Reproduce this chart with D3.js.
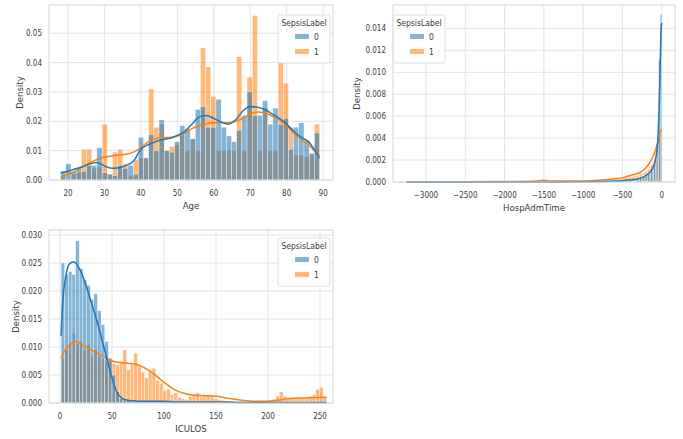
<!DOCTYPE html>
<html>
<head>
<meta charset="utf-8">
<script src="https://cdn.jsdelivr.net/npm/d3@7"></script>
<style>
  body { margin: 0; background: #fff; }
  text { font-family: "DejaVu Sans Condensed", "Liberation Sans Narrow", "DejaVu Sans", sans-serif; fill: #3a3a3a; }
</style>
</head>
<body>
<svg id="chart" width="683" height="439"></svg>
<script>
// ---- Age panel ----
const ageBinStart = 18, ageBinWidth = 1.42;
const ageDensity0 = [0.003,0.0055,0.003,0.004,0.003,0.005,0.005,0.011,0.0025,0.002,
  0.0015,0.005,0.004,0.005,0.002,0.0145,0.0075,0.0155,0.010,0.0205,
  0.010,0.0095,0.013,0.0185,0.0175,0.014,0.024,0.025,0.018,0.018,
  0.0275,0.018,0.015,0.013,0.017,0.022,0.030,0.022,0.022,0.027,
  0.019,0.0245,0.019,0.021,0.0105,0.018,0.0195,0.0135,0.009,0.016];
const ageDensity1 = [0.0015,0.0,0.002,0.0025,0.0105,0.0105,0.004,0.0045,0.019,0.002,
  0.0095,0.0105,0.0055,0.0015,0.007,0.0075,0.0075,0.031,0.018,0.019,
  0.010,0.0115,0.012,0.016,0.010,0.014,0.010,0.045,0.0385,0.0285,
  0.010,0.010,0.010,0.010,0.042,0.010,0.035,0.056,0.010,0.0245,
  0.010,0.010,0.040,0.033,0.018,0.0085,0.0085,0.008,0.009,0.019];
const ageKdeX = [18,20,22,24,26,28,30,32,34,36,38,40,42,44,46,48,50,52,54,56,58,60,62,64,66,68,70,72,74,76,78,80,82,84,86,88,89];
const ageKde0 = [0.0025,0.003,0.0038,0.0045,0.0055,0.006,0.0048,0.004,0.0042,0.005,0.0065,0.0105,0.012,0.013,0.0138,0.0142,0.0152,0.0165,0.019,0.0215,0.022,0.021,0.0198,0.019,0.0205,0.0235,0.025,0.0248,0.024,0.0225,0.021,0.019,0.0165,0.0145,0.013,0.0095,0.0075];
const ageKde1 = [0.001,0.002,0.003,0.0045,0.0058,0.007,0.0078,0.0082,0.0085,0.0088,0.0095,0.011,0.013,0.014,0.0145,0.0145,0.015,0.016,0.0175,0.0185,0.0192,0.0195,0.0195,0.0195,0.02,0.021,0.0225,0.0232,0.0228,0.0218,0.0205,0.0185,0.016,0.0138,0.012,0.0095,0.0085];

// ---- HospAdmTime panel ----
const hospBinStart = -600, hospBinWidth = 20;
const hospDensity0 = [0.0001,0.0001,0.0001,0.0001,0.0001,0.0001,0.0001,0.0001,0.0001,0.0002,
  0.0002,0.0002,0.0003,0.0003,0.0003,0.0004,0.0004,0.0005,0.0006,0.0006,
  0.0007,0.0008,0.0010,0.0012,0.0015,0.0017,0.0020,0.0042,0.0112,0.0153];
const hospDensity1 = [0.0003,0.0003,0.0003,0.0003,0.0004,0.0004,0.0004,0.0004,0.0004,0.0005,
  0.0005,0.0005,0.0006,0.0006,0.0006,0.0007,0.0008,0.0008,0.0009,0.0010,
  0.0011,0.0012,0.0014,0.0016,0.0019,0.0022,0.0028,0.0036,0.0045,0.0048];
const hospKdeX = [-3250,-3000,-2500,-2000,-1600,-1500,-1400,-1000,-800,-600,-500,-400,-300,-250,-200,-150,-100,-75,-50,-30,-20,-10,0];
const hospKde0 = [0,0,0,0,0,0.00001,0,0.00002,0.00004,0.00008,0.00012,0.0002,0.0003,0.0004,0.0006,0.0009,0.0015,0.0022,0.0038,0.0075,0.0105,0.0135,0.0145];
const hospKde1 = [0,0.00002,0.00003,0.00005,0.0001,0.00015,0.0001,0.0001,0.00015,0.0003,0.0004,0.0006,0.0008,0.001,0.0013,0.0018,0.0025,0.003,0.0036,0.0042,0.0045,0.0047,0.0048];

// ---- ICULOS panel ----
const icuBinStart = 1, icuBinWidth = 3.5;
const icuDensity0 = [0.025,0.023,0.0235,0.023,0.029,0.024,0.022,0.021,0.0185,0.0195,
  0.0165,0.014,0.011,0.008,0.005,0.002,0.0008,0.0005,0.0004,0.0003,
  0.0003,0.0003,0.0003,0.0002,0.0003,0.0002,0.0002,0.0002,0.0002,0.0002,
  0.0002,0.0002,0.0002,0.0002,0.0002,0.0002,0.0002,0.0002,0.0002,0.0002,
  0.0002,0.0002,0.0002,0.0002,0.0002,0.0002,0.0002,0.0002,0.0002,0.0002,
  0.0002,0.0002,0.0002,0.0002,0.0002,0.0002,0.0002,0.0002,0.0002,0.0002,
  0.0002,0.0002,0.0002,0.0002,0.0002,0.0002,0.0002,0.0002,0.0002,0.0002,
  0.0002,0.0002,0.0002];
const icuDensity1 = [0.008,0.0095,0.0105,0.0125,0.0105,0.011,0.0095,0.0105,0.0085,0.0095,
  0.0085,0.008,0.0075,0.0078,0.007,0.0068,0.0072,0.0095,0.006,0.0068,
  0.0089,0.0065,0.0055,0.0045,0.0058,0.0062,0.004,0.0035,0.0022,0.0025,
  0.0015,0.0018,0.001,0.0008,0.0006,0.0012,0.0015,0.0018,0.0012,0.0014,
  0.0013,0.0011,0.0008,0.0006,0.0005,0.0004,0.0003,0.0002,0.0002,0.0001,
  0.0001,0.0001,0,0.0001,0.0002,0.0002,0.0003,0.0005,0.0007,0.0012,
  0.002,0.0012,0.0009,0.0008,0.0009,0.0008,0.001,0.001,0.0012,0.0015,
  0.0024,0.0028,0.0012];
const icuKdeX = [1,3,5,8,10,13,15,18,20,25,30,35,40,45,50,55,60,65,70,80,90,100,110,120,130,140,150,160,175,190,200,210,220,235,250,256];
const icuKde0 = [0.012,0.019,0.022,0.0245,0.025,0.0252,0.025,0.0242,0.0235,0.021,0.018,0.015,0.0115,0.008,0.0045,0.0018,0.0008,0.0005,0.0004,0.0003,0.0003,0.0003,0.0002,0.0002,0.0002,0.0002,0.0002,0.0002,0.0001,0.0001,0.0001,0.0001,0.0001,0.0001,0.0001,0.0001];
const icuKde1 = [0.008,0.0088,0.0095,0.0102,0.0105,0.0108,0.011,0.0108,0.0105,0.01,0.0095,0.009,0.0085,0.008,0.0075,0.0073,0.0072,0.0071,0.007,0.0064,0.0052,0.0037,0.0024,0.0017,0.0014,0.0013,0.0012,0.0009,0.0005,0.0003,0.0003,0.0005,0.0008,0.0009,0.001,0.001];

const hueLabels = ["0", "1"];
const colors = ["#1f77b4", "#ff7f0e"];

const svg = d3.select("#chart");

function panel(opt) {
  const x = d3.scaleLinear().domain(opt.xDomain).range([opt.left, opt.right]);
  const y = d3.scaleLinear().domain(opt.yDomain).range([opt.bottom, opt.top]);
  const g = svg.append("g");

  // grid
  g.selectAll(".gx").data(opt.xTicks).enter().append("line")
    .attr("x1", d => x(d)).attr("x2", d => x(d))
    .attr("y1", opt.top).attr("y2", opt.bottom)
    .attr("stroke", "#e3e3e3").attr("stroke-width", 1);
  g.selectAll(".gy").data(opt.yTicks).enter().append("line")
    .attr("x1", opt.left).attr("x2", opt.right)
    .attr("y1", d => y(d)).attr("y2", d => y(d))
    .attr("stroke", "#e3e3e3").attr("stroke-width", 1);

  // bars: orange (1) first, blue (0) on top
  [1, 0].forEach(h => {
    const vals = opt.dens[h];
    g.selectAll(".b" + h).data(vals).enter().append("rect")
      .attr("x", (d, i) => x(opt.binStart + i * opt.binWidth))
      .attr("width", (d, i) => Math.max(0, x(opt.binStart + (i + 1) * opt.binWidth) - x(opt.binStart + i * opt.binWidth)))
      .attr("y", d => y(d))
      .attr("height", d => y(0) - y(d))
      .attr("fill", colors[h]).attr("fill-opacity", 0.55)
      .attr("stroke", "#fff").attr("stroke-width", 0.35);
  });

  // kde lines
  const line = d3.line().curve(d3.curveMonotoneX);
  [1, 0].forEach(h => {
    g.append("path")
      .attr("d", line(opt.kdeX.map((v, i) => [x(v), y(opt.kde[h][i])])))
      .attr("fill", "none").attr("stroke", colors[h]).attr("stroke-width", 1.5);
  });

  // frame
  g.append("rect").attr("x", opt.left).attr("y", opt.top)
    .attr("width", opt.right - opt.left).attr("height", opt.bottom - opt.top)
    .attr("fill", "none").attr("stroke", "#d6d6d6").attr("stroke-width", 1);

  // tick labels
  g.selectAll(".tx").data(opt.xTicks).enter().append("text")
    .attr("x", d => x(d)).attr("y", opt.bottom + 16)
    .attr("text-anchor", "middle").attr("font-size", 8)
    .text(d => d < 0 ? "\u2212" + Math.abs(d) : d);
  g.selectAll(".ty").data(opt.yTicks).enter().append("text")
    .attr("x", opt.left - 7).attr("y", d => y(d) + 3)
    .attr("text-anchor", "end").attr("font-size", 8)
    .text(d => d3.format(opt.yFmt)(d));

  // axis labels
  g.append("text").attr("x", (opt.left + opt.right) / 2).attr("y", opt.bottom + 29)
    .attr("text-anchor", "middle").attr("font-size", 9.5).text(opt.xLabel);
  g.append("text")
    .attr("transform", `translate(${opt.yLabelX},${(opt.top + opt.bottom) / 2}) rotate(-90)`)
    .attr("text-anchor", "middle").attr("font-size", 9.5).text("Density");

  // legend
  const lg = g.append("g").attr("transform", `translate(${opt.legX},${opt.legY})`);
  lg.append("rect").attr("width", 52).attr("height", 48).attr("rx", 2)
    .attr("fill", "#fff").attr("fill-opacity", 0.85)
    .attr("stroke", "#d6d6d6").attr("stroke-width", 0.8);
  lg.append("text").attr("x", 26).attr("y", 11).attr("text-anchor", "middle")
    .attr("font-size", 8.5).text("SepsisLabel");
  hueLabels.forEach((lab, i) => {
    lg.append("rect").attr("x", 17).attr("y", 19 + i * 15).attr("width", 14).attr("height", 5)
      .attr("fill", colors[i]).attr("fill-opacity", 0.55);
    lg.append("text").attr("x", 36).attr("y", 25 + i * 15).attr("font-size", 8.5).text(lab);
  });
}

panel({
  left: 49, right: 333, top: 5, bottom: 180,
  xDomain: [14.8, 92.7], yDomain: [0, 0.0596],
  xTicks: [20, 30, 40, 50, 60, 70, 80, 90], yTicks: [0, 0.01, 0.02, 0.03, 0.04, 0.05], yFmt: ".2f",
  binStart: ageBinStart, binWidth: ageBinWidth, dens: [ageDensity0, ageDensity1],
  kdeX: ageKdeX, kde: [ageKde0, ageKde1],
  xLabel: "Age", yLabelX: 23, legX: 278, legY: 15
});

panel({
  left: 393, right: 675, top: 5, bottom: 182,
  xDomain: [-3420, 169], yDomain: [0, 0.01613],
  xTicks: [-3000, -2500, -2000, -1500, -1000, -500, 0], yTicks: [0, 0.002, 0.004, 0.006, 0.008, 0.010, 0.012, 0.014], yFmt: ".3f",
  binStart: hospBinStart, binWidth: hospBinWidth, dens: [hospDensity0, hospDensity1],
  kdeX: hospKdeX, kde: [hospKde0, hospKde1],
  xLabel: "HospAdmTime", yLabelX: 360, legX: 393, legY: 15
});

panel({
  left: 49, right: 333, top: 230, bottom: 403,
  xDomain: [-10.6, 262.5], yDomain: [0, 0.0309],
  xTicks: [0, 50, 100, 150, 200, 250], yTicks: [0, 0.005, 0.010, 0.015, 0.020, 0.025, 0.030], yFmt: ".3f",
  binStart: icuBinStart, binWidth: icuBinWidth, dens: [icuDensity0, icuDensity1],
  kdeX: icuKdeX, kde: [icuKde0, icuKde1],
  xLabel: "ICULOS", yLabelX: 19, legX: 278, legY: 238
});
</script>
</body>
</html>
